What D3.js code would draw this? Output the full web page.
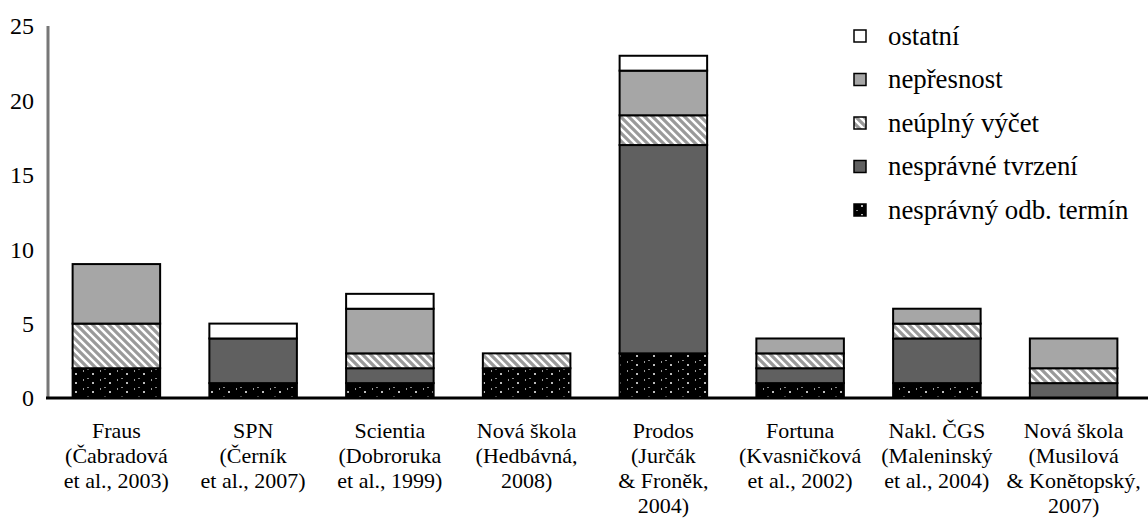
<!DOCTYPE html>
<html>
<head>
<meta charset="utf-8">
<script src="https://cdn.jsdelivr.net/npm/d3@7"></script>
<style>
  body { margin: 0; background: #fff; }
  text { font-family: "Liberation Serif", "Times New Roman", serif; fill: #000; }
</style>
</head>
<body>
<div id="chart"></div>
<script>
var categories = [
  ["Fraus", "(Čabradová", "et al., 2003)"],
  ["SPN", "(Černík", "et al., 2007)"],
  ["Scientia", "(Dobroruka", "et al., 1999)"],
  ["Nová škola", "(Hedbávná,", "2008)"],
  ["Prodos", "(Jurčák", "& Froněk,", "2004)"],
  ["Fortuna", "(Kvasničková", "et al., 2002)"],
  ["Nakl. ČGS", "(Maleninský", "et al., 2004)"],
  ["Nová škola", "(Musilová", "& Konětopský,", "2007)"]
];

var seriesNames = ["nesprávný odb. termín", "nesprávné tvrzení", "neúplný výčet", "nepřesnost", "ostatní"];
var termin     = [2, 1, 1, 2, 3, 1, 1, 0];
var tvrzeni    = [0, 3, 1, 0, 14, 1, 3, 1];
var vycet      = [3, 0, 1, 1, 2, 1, 1, 1];
var nepresnost = [4, 0, 3, 0, 3, 1, 1, 2];
var ostatni    = [0, 1, 1, 0, 1, 0, 0, 0];
var yTicks = [0, 5, 10, 15, 20, 25];

var width = 1148, height = 519;
var margin = {left: 48, right: 6, top: 26, bottom: 121};

var svg = d3.select("#chart").append("svg")
    .attr("width", width)
    .attr("height", height);

var defs = svg.append("defs");

// diagonal stripes
var stripes = defs.append("pattern")
    .attr("id", "stripes")
    .attr("patternUnits", "userSpaceOnUse")
    .attr("width", 8).attr("height", 8);
stripes.append("rect").attr("width", 8).attr("height", 8).attr("fill", "#fff");
stripes.append("path")
    .attr("d", "M-2,-2L10,10M-2,6L2,10M6,-2L10,2")
    .attr("stroke", "#9a9a9a")
    .attr("stroke-width", 3.2);

// black with small dots
var dots = defs.append("pattern")
    .attr("id", "dots")
    .attr("patternUnits", "userSpaceOnUse")
    .attr("width", 17).attr("height", 9);
dots.append("rect").attr("width", 17).attr("height", 9).attr("fill", "#000");
dots.append("rect").attr("x", 7).attr("y", 4).attr("width", 2).attr("height", 2).attr("fill", "#bbb");
dots.append("rect").attr("x", 15).attr("y", 1).attr("width", 1).attr("height", 2).attr("fill", "#999");
dots.append("rect").attr("x", 2).attr("y", 0).attr("width", 2).attr("height", 1).attr("fill", "#888");

var fills = ["url(#dots)", "#606060", "url(#stripes)", "#a6a6a6", "#fff"];

var x = d3.scaleBand()
    .domain(d3.range(categories.length))
    .range([margin.left, width - margin.right])
    .paddingInner(0.36)
    .paddingOuter(0.18);

var y = d3.scaleLinear()
    .domain([0, 25])
    .range([height - margin.bottom, margin.top]);

var table = categories.map(function(c, i) {
  return {i: i, s0: termin[i], s1: tvrzeni[i], s2: vycet[i], s3: nepresnost[i], s4: ostatni[i]};
});
var stack = d3.stack().keys(["s0", "s1", "s2", "s3", "s4"])(table);

stack.forEach(function(layer, k) {
  svg.append("g").selectAll("rect")
    .data(layer.filter(function(d) { return d[1] > d[0]; }))
    .enter().append("rect")
      .attr("x", function(d) { return x(d.data.i); })
      .attr("width", x.bandwidth())
      .attr("y", function(d) { return y(d[1]); })
      .attr("height", function(d) { return y(d[0]) - y(d[1]); })
      .attr("fill", fills[k])
      .attr("stroke", "#000")
      .attr("stroke-width", 2);
});

// y axis
svg.append("line")
    .attr("x1", margin.left).attr("x2", margin.left)
    .attr("y1", y(25)).attr("y2", y(0))
    .attr("stroke", "#777").attr("stroke-width", 3);

svg.append("g").selectAll("text")
    .data(yTicks)
    .enter().append("text")
      .attr("x", 34)
      .attr("y", function(d) { return y(d); })
      .attr("dy", "0.35em")
      .attr("text-anchor", "end")
      .style("font-size", "24px")
      .text(function(d) { return d; });

// x axis
svg.append("line")
    .attr("x1", margin.left - 2).attr("x2", width)
    .attr("y1", y(0)).attr("y2", y(0))
    .attr("stroke", "#000").attr("stroke-width", 3);

var labels = svg.append("g").selectAll("text")
    .data(categories)
    .enter().append("text")
      .attr("text-anchor", "middle")
      .attr("x", function(d, i) { return x(i) + x.bandwidth() / 2; })
      .attr("y", 430)
      .style("font-size", "22px");
labels.selectAll("tspan")
    .data(function(d) { return d; })
    .enter().append("tspan")
      .attr("x", function() { return d3.select(this.parentNode).attr("x"); })
      .attr("dy", function(d, j) { return j === 0 ? "0.35em" : "25"; })
      .text(function(d) { return d; });

// legend
var legendOrder = [4, 3, 2, 1, 0];
var legend = svg.append("g").selectAll("g")
    .data(legendOrder)
    .enter().append("g")
      .attr("transform", function(d, j) { return "translate(854," + (36 + j * 43.5) + ")"; });
legend.append("rect")
    .attr("x", 0).attr("y", -6)
    .attr("width", 12).attr("height", 12)
    .attr("fill", function(d) { return fills[d]; })
    .attr("stroke", "#000").attr("stroke-width", 1.5);
legend.append("text")
    .attr("x", 34)
    .attr("dy", "0.32em")
    .style("font-size", "26.8px")
    .text(function(d) { return seriesNames[d]; });
</script>
</body>
</html>
